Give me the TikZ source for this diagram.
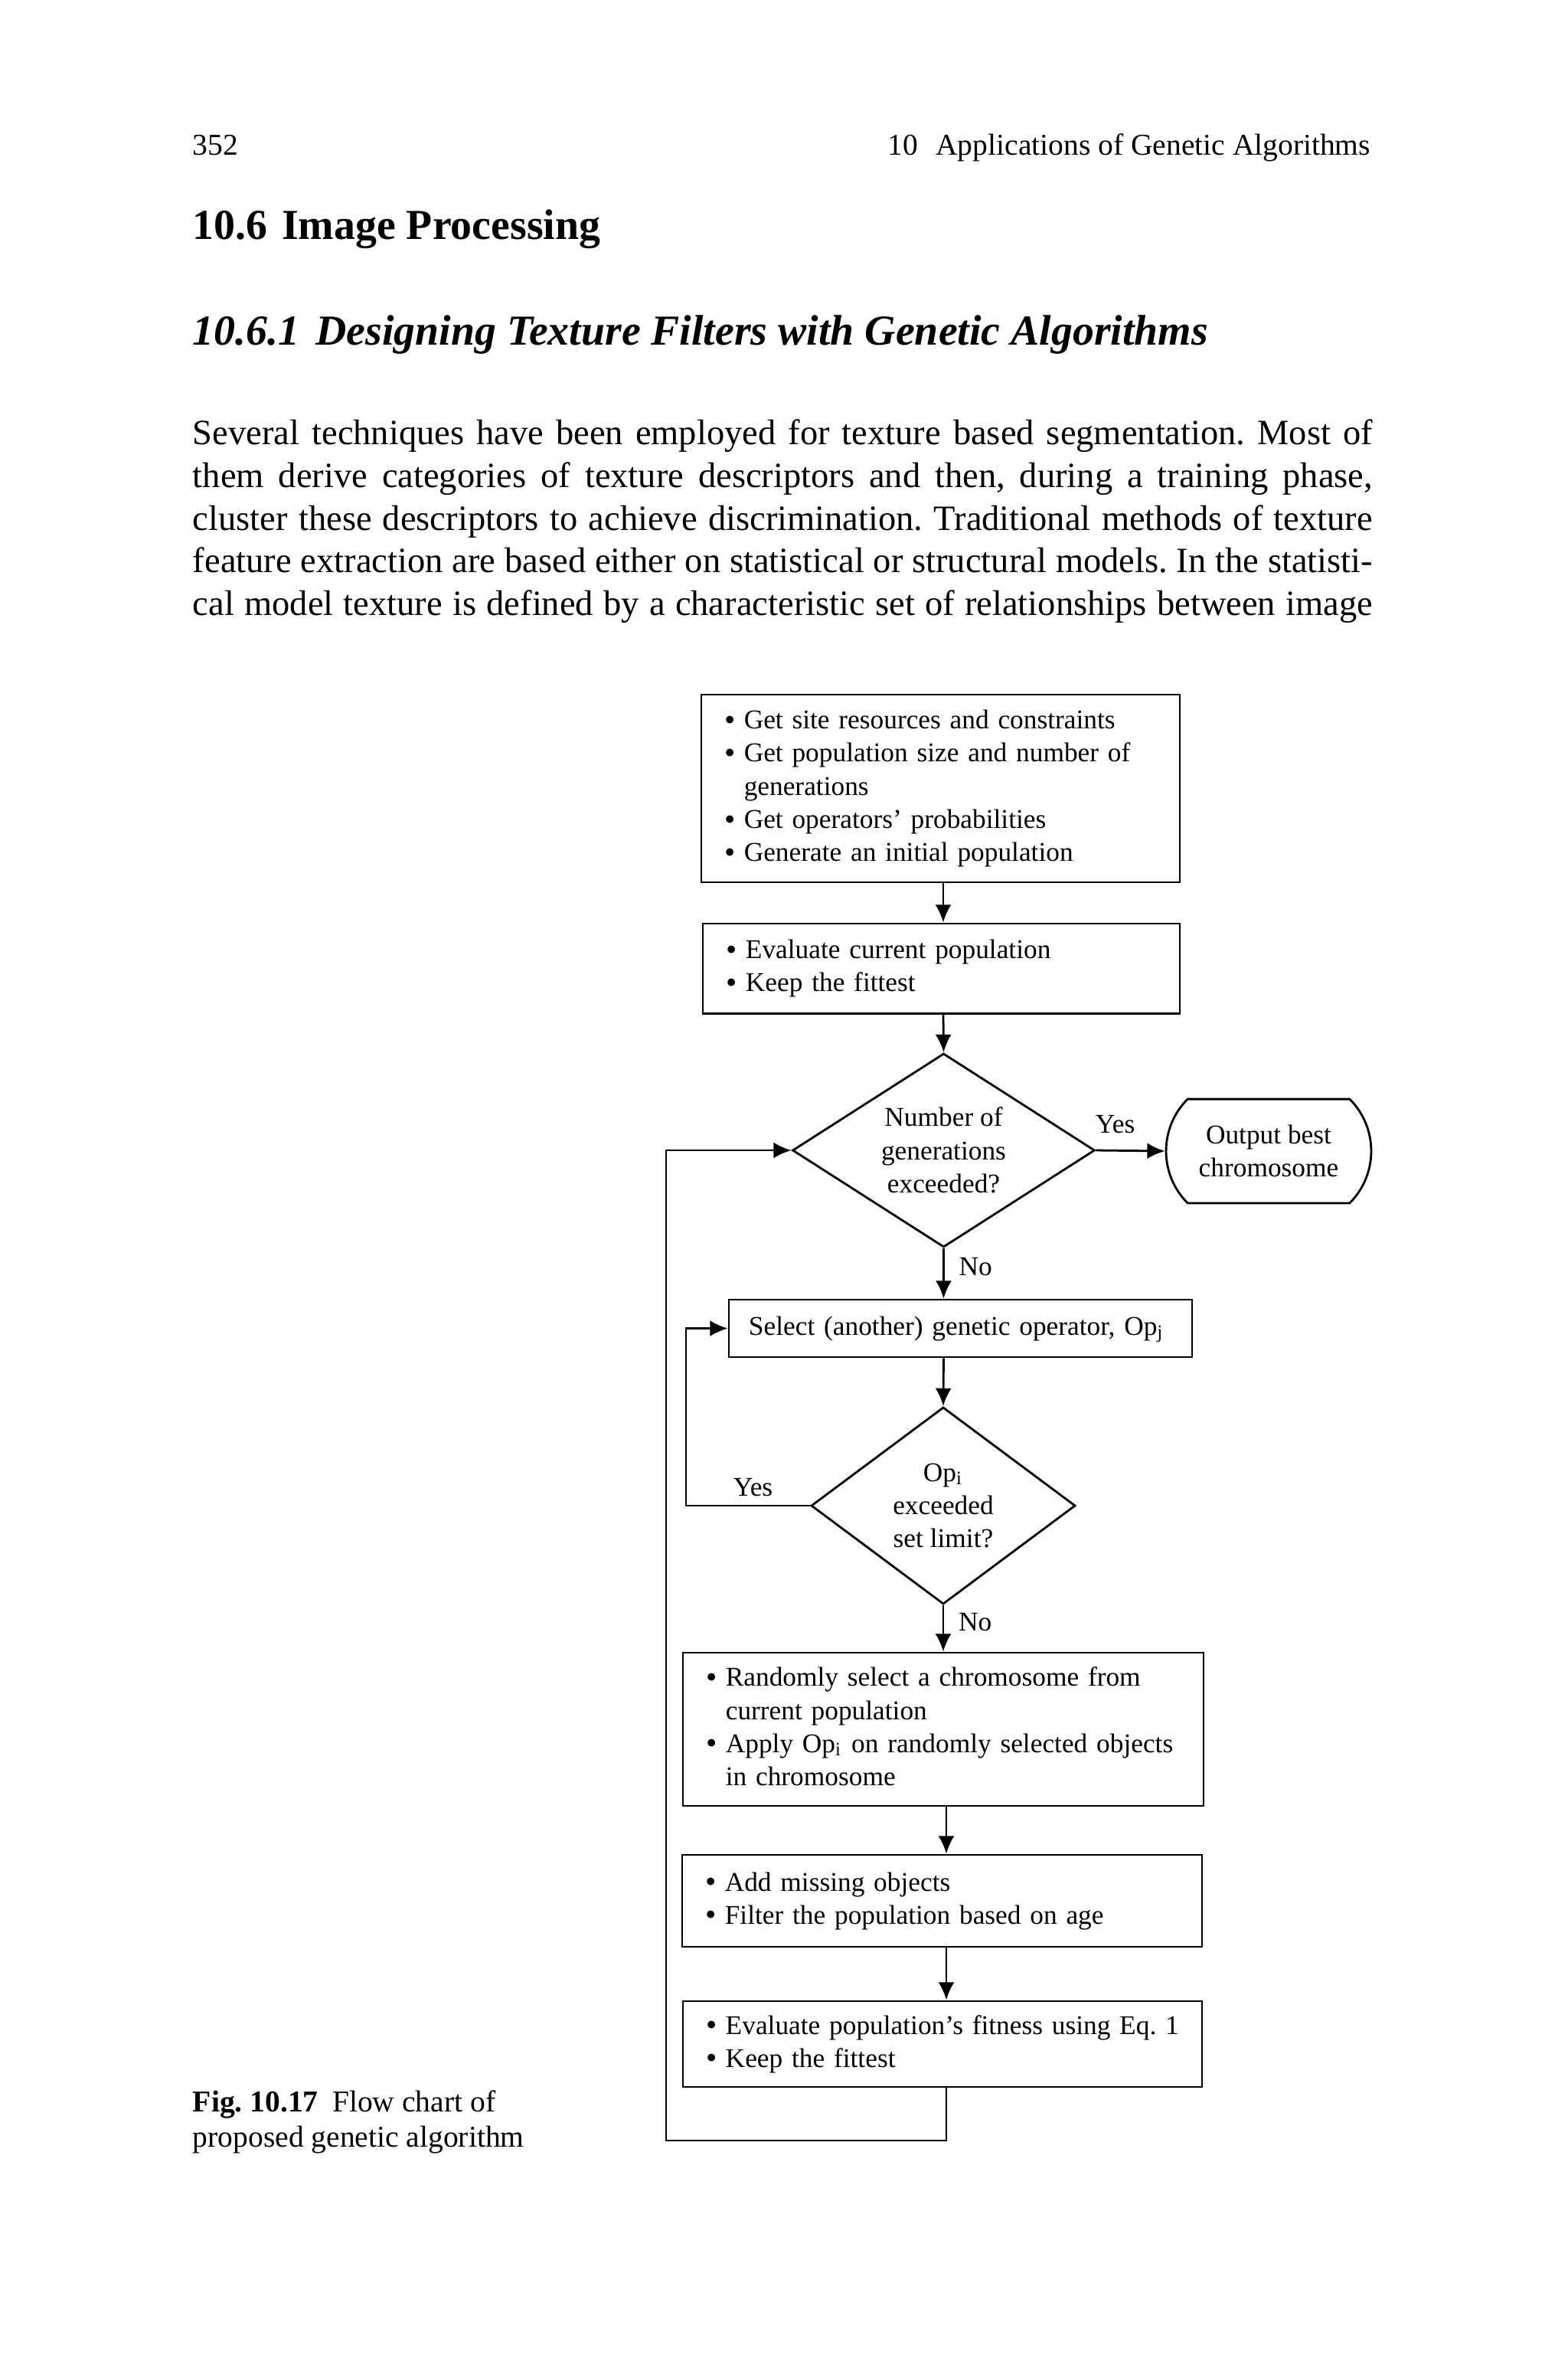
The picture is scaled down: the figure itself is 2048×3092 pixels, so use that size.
\documentclass[tikz,border=0pt]{standalone}
\usepackage{fontspec}
\setmainfont{Liberation Serif}
\usetikzlibrary{arrows.meta,shapes.geometric,shapes.misc}
\tikzset{
  arr/.style={-{Latex[length=5pt,width=4.5pt]}, line width=0.6pt},
  fc/.style={font=\fontsize{7.6pt}{9.3pt}\selectfont},
  box/.style={draw, line width=0.6pt, rectangle, inner ysep=0pt, inner xsep=6.5pt, align=left, fc},
  dec/.style={draw, line width=0.6pt, diamond, inner sep=0pt},
  lbl/.style={fc, inner sep=0pt},
  body/.style={anchor=base west, inner sep=0pt, font=\fontsize{10pt}{12pt}\selectfont},
}
\newcommand\bul{\makebox[5.5pt][l]{\raisebox{-0.1ex}{\scalebox{1.15}{\textbullet}}}}
\newcommand\ind{\hspace*{5.5pt}}
\newcommand\lines[1]{\begin{tabular}{@{}l@{}}#1\end{tabular}}
\frenchspacing
\begin{document}
\begin{tikzpicture}[x=0.215pt,y=-0.215pt]
\fill[white] (0,0) rectangle (2048,3092);
\useasboundingbox (0,0) rectangle (2048,3092);

% running head
\node[anchor=base west, inner sep=0pt, font=\fontsize{8.5pt}{10pt}\selectfont] (pg) at (251,202) {352};
\node[anchor=base east, inner sep=0pt, font=\fontsize{8.5pt}{10pt}\selectfont] (rh) at (1791,202) {10\hspace{5pt}Applications of Genetic Algorithms};

% headings
\node[anchor=base west, inner sep=0pt, font=\fontsize{12pt}{14pt}\selectfont\bfseries] (sec) at (251,312) {10.6\hspace{4pt}Image Processing};
\node[anchor=base west, inner sep=0pt, font=\fontsize{12pt}{14pt}\selectfont\bfseries\itshape] (subsec) at (251,450) {10.6.1\hspace{4.5pt}Designing Texture Filters with Genetic Algorithms};

% body text
\node[body] (p1) at (251,580) {\makebox[331.3pt][s]{Several techniques have been employed for texture based segmentation. Most of}};
\node[body] (p2) at (251,636) {\makebox[331.3pt][s]{them derive categories of texture descriptors and then, during a training phase,}};
\node[body] (p3) at (251,692) {\makebox[331.3pt][s]{cluster these descriptors to achieve discrimination. Traditional methods of texture}};
\node[body] (p4) at (251,747) {\makebox[331.3pt][s]{feature extraction are based either on statistical or structural models. In the statisti-}};
\node[body] (p5) at (251,803) {\makebox[331.3pt][s]{cal model texture is defined by a characteristic set of relationships between image}};

% caption
\node[anchor=base west, inner sep=0pt, font=\fontsize{8.5pt}{10pt}\selectfont] (cap1) at (251,2757) {\textbf{Fig. 10.17}\hspace{4pt}Flow chart of};
\node[anchor=base west, inner sep=0pt, font=\fontsize{8.5pt}{10pt}\selectfont] (cap2) at (251,2803) {proposed genetic algorithm};

% flowchart nodes
\node[box, text width=121.4pt, minimum height=52.7pt] (b1) at (1228.5,1029.5)
  {\lines{\bul Get site resources and constraints\\
   \bul Get population size and number of\\
   \ind generations\\
   \bul Get operators' probabilities\\
   \bul Generate an initial population}};
\node[box, text width=120.9pt, minimum height=25.2pt] (b2) at (1229.5,1264.5)
  {\lines{\bul Evaluate current population\\
   \bul Keep the fittest}};
\node[dec, minimum width=84.9pt, minimum height=54.4pt,
  label={[fc,align=center]center:Number of\\generations\\exceeded?}] (d1) at (1232.5,1502) {};
\node[draw, line width=0.6pt, rounded rectangle, rounded rectangle arc length=90,
  minimum width=57.6pt, minimum height=29.2pt, inner sep=0pt, align=center, fc] (term) at (1657,1503)
  {Output best\\chromosome};
\node[box, inner xsep=5.6pt, text width=118.9pt, minimum height=16.1pt] (sel) at (1254.5,1734.5)
  {\lines{Select (another) genetic operator, Op\textsubscript{j}}};
\node[dec, minimum width=74.2pt, minimum height=55.3pt,
  label={[fc,align=center]center:Op\textsubscript{i}\\exceeded\\set limit?}] (d2) at (1232,1966) {};
\node[box, text width=133.2pt, minimum height=43pt] (b3) at (1232,2258)
  {\lines{\bul Randomly select a chromosome from\\
   \ind current population\\
   \bul Apply Op\textsubscript{i} on randomly selected objects\\
   \ind in chromosome}};
\node[box, text width=133pt, minimum height=25.8pt] (b4) at (1230.5,2482)
  {\lines{\bul Add missing objects\\
   \bul Filter the population based on age}};
\node[box, text width=132.8pt, minimum height=24.1pt] (b5) at (1231,2669)
  {\lines{\bul Evaluate population's fitness using Eq. 1\\
   \bul Keep the fittest}};

% helper coordinates
\coordinate (uc) at (1232,1000);
\coordinate (lc) at (1236,2400);
\coordinate (il) at (896,1850);
\coordinate (ol) at (870,2795);

% connectors
\draw[arr] (b1.south -| uc) -- (b2.north -| uc);
\draw[arr] (b2.south -| uc) -- (d1.north);
\draw[arr] (d1.east) -- node[lbl, pos=0.28, anchor=base, yshift=4.9pt] (yes1) {Yes} (term.west);
\draw[arr] (d1.south) -- node[lbl, pos=0.54, anchor=base west, xshift=4pt] (no1) {No} (sel.north -| d1);
\draw[arr] (sel.south -| d1) -- (d2.north);
\draw[arr] (d2.west) -- node[lbl, pos=0.46, anchor=base, yshift=2.8pt] (yes2) {Yes} (d2.west -| il) |- (sel.west);
\draw[arr] (d2.south) -- node[lbl, pos=0.56, anchor=base west, xshift=4pt] (no2) {No} (b3.north -| d2);
\draw[arr] (b3.south -| lc) -- (b4.north -| lc);
\draw[arr] (b4.south -| lc) -- (b5.north -| lc);
\draw[arr] (b5.south -| lc) |- (ol) |- (d1.west);
\end{tikzpicture}
\end{document}
